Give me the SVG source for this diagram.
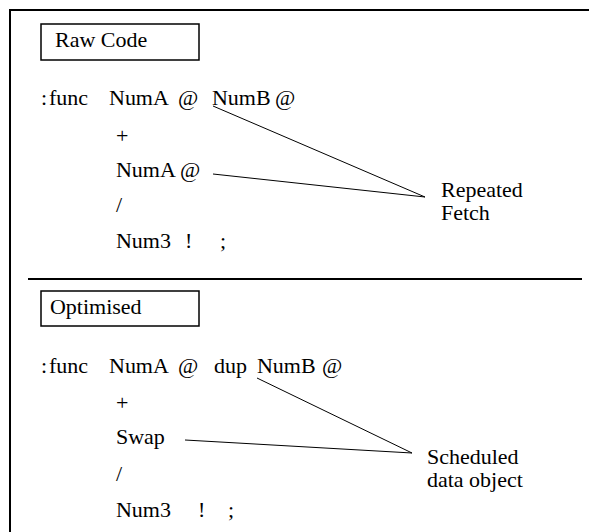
<svg xmlns="http://www.w3.org/2000/svg" width="589" height="532" viewBox="0 0 589 532">
<rect width="589" height="532" fill="#fff"/>
<g id="frame" fill="none" stroke="#000" stroke-width="2">
<rect x="10" y="10" width="600" height="560"/>
<line x1="28" y1="279" x2="582" y2="279"/>
</g>
<rect x="41" y="24" width="158" height="36" fill="#fff" stroke="#000" stroke-width="1.5"/>
<rect x="41" y="291" width="158" height="35" fill="#fff" stroke="#000" stroke-width="1.5"/>
<g transform="scale(0.733333)" font-family="Liberation Serif" font-size="30">
<g id="raw-title">
<text x="75" y="64.09" font-family="Liberation Serif" font-size="30">Raw Code</text>
</g>
<g id="raw-code">
<text y="143.18" font-family="Liberation Serif" font-size="30"><tspan x="55.91">:</tspan><tspan x="66.82">func</tspan><tspan x="148.64">NumA</tspan><tspan x="242.73">@</tspan><tspan x="289.09">NumB</tspan><tspan x="375">@</tspan></text>
<text x="158.18" y="195" font-family="Liberation Serif" font-size="30">+</text>
<text x="158.18" y="241.36" font-family="Liberation Serif" font-size="30">NumA @</text>
<text x="158.18" y="289.09" font-family="Liberation Serif" font-size="30">/</text>
<text y="338.18" font-family="Liberation Serif" font-size="30"><tspan x="158.18">Num3</tspan><tspan x="252.27">!</tspan><tspan x="300">;</tspan></text>
</g>
<g id="repeated-fetch">
<text x="601.36" y="268.64" font-family="Liberation Serif" font-size="30">Repeated</text>
<text x="601.36" y="300" font-family="Liberation Serif" font-size="30">Fetch</text>
</g>
<g id="opt-title">
<text x="68.18" y="428.18" font-family="Liberation Serif" font-size="30">Optimised</text>
</g>
<g id="opt-code">
<text y="508.64" font-family="Liberation Serif" font-size="30"><tspan x="55.91">:</tspan><tspan x="66.82">func</tspan><tspan x="148.64">NumA</tspan><tspan x="242.73">@</tspan><tspan x="291.82">dup</tspan><tspan x="350.45">NumB</tspan><tspan x="439.09">@</tspan></text>
<text x="158.18" y="559.09" font-family="Liberation Serif" font-size="30">+</text>
<text x="158.18" y="605.45" font-family="Liberation Serif" font-size="30">Swap</text>
<text x="158.18" y="655.91" font-family="Liberation Serif" font-size="30">/</text>
<text y="705" font-family="Liberation Serif" font-size="30"><tspan x="158.18">Num3</tspan><tspan x="270">!</tspan><tspan x="310.91">;</tspan></text>
</g>
<g id="scheduled-data-object">
<text x="582.27" y="632.73" font-family="Liberation Serif" font-size="30">Scheduled</text>
<text x="582.27" y="664.09" font-family="Liberation Serif" font-size="30">data object</text>
</g>
</g>
<g id="connectors" stroke="#000" stroke-width="1" fill="none">
<line x1="213" y1="106" x2="425" y2="197"/>
<line x1="213" y1="174" x2="425" y2="197"/>
<line x1="257" y1="378" x2="412" y2="453"/>
<line x1="185" y1="440" x2="412" y2="453"/>
</g>
</svg>
